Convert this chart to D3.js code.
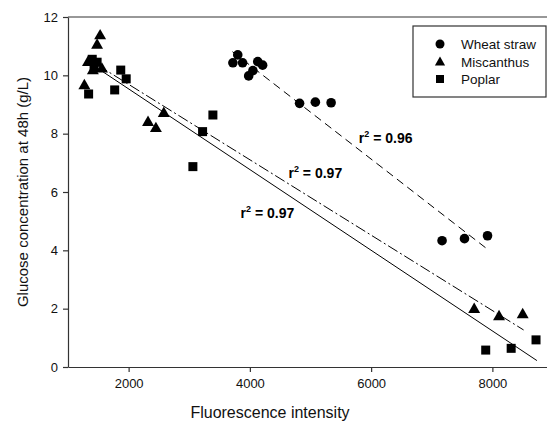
<!DOCTYPE html>
<html>
<head>
<meta charset="utf-8">
<script src="https://cdn.jsdelivr.net/npm/d3@7"></script>
<style>
  body { margin: 0; background: #fff; }
  text { font-family: "Liberation Sans", Arial, sans-serif; }
</style>
</head>
<body>
<div id="chart"></div>
<script>
// values
var wheatX = [3720, 3800, 3880, 3980, 4050, 4130, 4210, 4820, 5080, 5340, 7170, 7540, 7920];
var wheatY = [10.43, 10.70, 10.43, 9.98, 10.16, 10.47, 10.35, 9.04, 9.08, 9.06, 4.33, 4.40, 4.50];
var miscX = [1270, 1330, 1410, 1480, 1530, 1560, 2320, 2450, 2580, 7700, 8110, 8500];
var miscY = [9.67, 10.47, 10.18, 11.06, 11.38, 10.24, 8.41, 8.20, 8.72, 2.00, 1.75, 1.82];
var poplarX = [1340, 1400, 1430, 1480, 1770, 1870, 1960, 3060, 3220, 3390, 7890, 8310, 8720];
var poplarY = [9.36, 10.55, 10.30, 10.45, 9.50, 10.18, 9.88, 6.87, 8.07, 8.64, 0.58, 0.64, 0.93];

// fitted lines: [x0, y0, x1, y1]
var wheatFit = [3713, 10.81, 7900, 4.07];
var miscFit = [1490, 10.35, 8515, 1.27];
var poplarFit = [1490, 10.24, 8735, 0.22];

var labels = ["r² = 0.96", "r² = 0.97", "r² = 0.97"];
var labelX = [6240, 5080, 4290];
var labelY = [7.68, 6.48, 5.11];

var xTicks = [2000, 4000, 6000, 8000];
var yTicks = [0, 2, 4, 6, 8, 10, 12];
var seriesNames = ["Wheat straw", "Miscanthus", "Poplar"];

var margin = {top: 17, right: 0, bottom: 59, left: 68},
width = 553 - margin.left,
height = 426 - margin.top - margin.bottom;

var svg = d3.select("#chart").append("svg")
  .attr("width", 547)
  .attr("height", 426);

var g = svg.append("g")
  .attr("transform", "translate(" + margin.left + "," + margin.top + ")");

var x = d3.scaleLinear().domain([1000, 9000]).range([0, width]);
var y = d3.scaleLinear().domain([0, 12]).range([height, 0]);

// frame top line
g.append("line")
  .attr("x1", 0).attr("x2", width)
  .attr("y1", 0).attr("y2", 0)
  .attr("stroke", "#333").attr("stroke-width", 1.2);

var xAxis = g.append("g")
  .attr("transform", "translate(0," + height + ")")
  .call(d3.axisBottom(x).tickValues(xTicks).tickFormat(d3.format("d")).tickSize(5).tickPadding(7).tickSizeOuter(0));
var yAxis = g.append("g")
  .call(d3.axisLeft(y).tickValues(yTicks).tickFormat(d3.format("d")).tickSize(5).tickPadding(5).tickSizeOuter(0));

[xAxis, yAxis].forEach(function(a) {
  a.selectAll("path, line").attr("stroke", "#333").attr("stroke-width", 1.2);
  a.selectAll("text")
    .style("font-family", "Liberation Sans, Arial, sans-serif")
    .style("font-size", "13px")
    .attr("fill", "#111");
});

svg.append("text")
  .attr("x", 270).attr("y", 418)
  .attr("text-anchor", "middle")
  .style("font-size", "16px")
  .attr("fill", "#111")
  .text("Fluorescence intensity");

svg.append("text")
  .attr("transform", "translate(28,192)rotate(-90)")
  .attr("text-anchor", "middle")
  .style("font-size", "15px")
  .attr("fill", "#111")
  .text("Glucose concentration at 48h (g/L)");

// fit lines
function fitLine(f, dash) {
  g.append("line")
    .attr("x1", x(f[0])).attr("y1", y(f[1]))
    .attr("x2", x(f[2])).attr("y2", y(f[3]))
    .attr("stroke", "#000").attr("stroke-width", 1)
    .attr("stroke-dasharray", dash);
}
fitLine(wheatFit, "8,5");
fitLine(miscFit, "11,3,2,3");
fitLine(poplarFit, null);

// markers
var tri = d3.symbol().type(d3.symbolTriangle).size(62);
function zip(a, b) { return a.map(function(v, i) { return [v, b[i]]; }); }

g.selectAll(".wheat").data(zip(wheatX, wheatY)).enter().append("circle")
  .attr("class", "wheat")
  .attr("cx", function(d) { return x(d[0]); })
  .attr("cy", function(d) { return y(d[1]); })
  .attr("r", 4.8).attr("fill", "#000");

g.selectAll(".misc").data(zip(miscX, miscY)).enter().append("path")
  .attr("class", "misc")
  .attr("d", tri)
  .attr("transform", function(d) { return "translate(" + x(d[0]) + "," + (y(d[1]) + 0.8) + ")"; })
  .attr("fill", "#000");

g.selectAll(".poplar").data(zip(poplarX, poplarY)).enter().append("rect")
  .attr("class", "poplar")
  .attr("x", function(d) { return x(d[0]) - 4.5; })
  .attr("y", function(d) { return y(d[1]) - 4.5; })
  .attr("width", 9).attr("height", 9)
  .attr("fill", "#000");

// r² labels
labels.forEach(function(t, i) {
  var tx = g.append("text")
    .attr("x", x(labelX[i])).attr("y", y(labelY[i]))
    .attr("text-anchor", "middle")
    .style("font-size", "14px").style("font-weight", "bold")
    .attr("fill", "#000");
  tx.append("tspan").text("r");
  tx.append("tspan").attr("dy", -6).style("font-size", "9px").text("2");
  tx.append("tspan").attr("dy", 6).text(t.slice(2));
});

// legend
var lg = svg.append("g");
lg.append("rect")
  .attr("x", 413).attr("y", 26).attr("width", 133).attr("height", 71)
  .attr("fill", "#fff").attr("stroke", "#333").attr("stroke-width", 1.2);
var rowY = [44, 62, 79];
seriesNames.forEach(function(n, i) {
  if (i == 0) lg.append("circle").attr("cx", 440).attr("cy", rowY[i]).attr("r", 4.5).attr("fill", "#000");
  if (i == 1) lg.append("path").attr("d", d3.symbol().type(d3.symbolTriangle).size(45)).attr("transform", "translate(440," + (rowY[i] + 0.5) + ")").attr("fill", "#000");
  if (i == 2) lg.append("rect").attr("x", 436).attr("y", rowY[i] - 4).attr("width", 8).attr("height", 8).attr("fill", "#000");
  lg.append("text")
    .attr("x", 461).attr("y", rowY[i] + 5)
    .style("font-size", "13.5px")
    .attr("fill", "#111")
    .text(n);
});
</script>
</body>
</html>
